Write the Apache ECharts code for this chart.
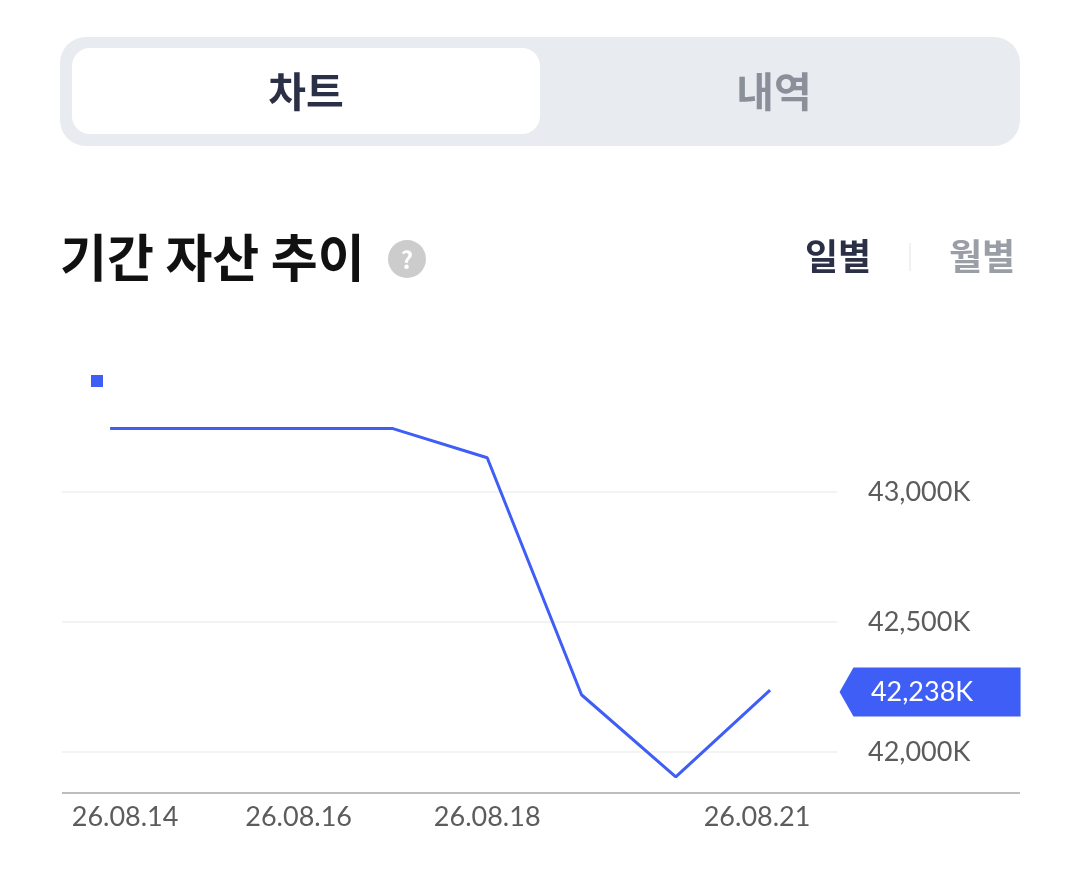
<!DOCTYPE html>
<html><head><meta charset="utf-8">
<script src="https://cdn.jsdelivr.net/npm/echarts@6/dist/echarts.min.js"></script>
<style>html,body{margin:0;padding:0;background:#fff}#c{width:1080px;height:869px}</style>
</head><body><div id="c"></div>
<script>
const dates = ['26.08.14','26.08.15','26.08.16','26.08.17','26.08.18','26.08.19','26.08.20','26.08.21'];
const assetValues = [43244, 43244, 43244, 43244, 43132, 42220, 41904, 42238];
const shownLabelIdx = [0, 2, 4, 7];
const yMin = 41842, yMax = 43354;
const tabLabels = ['차트', '내역'];
const periodLabels = ['일별', '월별'];
const titleText = '기간 자산 추이';

const blue = '#3f5ef5';
const kFmt = v => Math.round(v).toLocaleString('en-US') + 'K';
const last = dates.length - 1;
const KR = '"Noto Sans CJK KR", "Noto Sans", sans-serif';
const seriesData = assetValues.map((v, i) => [i, v]);

const chart = echarts.init(document.getElementById('c'), null, {renderer: 'canvas'});
chart.setOption({
  backgroundColor: '#fff',
  animation: false,
  legend: {
    left: 91, top: 375, padding: 0, icon: 'rect', itemWidth: 12, itemHeight: 12,
    formatter: () => '', selectedMode: false,
    data: ['자산']
  },
  grid: {left: 62, right: 243, top: 400, bottom: 76},
  xAxis: {
    type: 'value', min: -0.51, max: last + 0.71,
    axisLine: {show: false}, axisTick: {show: false}, splitLine: {show: false},
    axisLabel: {
      customValues: shownLabelIdx,
      margin: 11, fontFamily: 'Lato', fontSize: 27, color: '#5c5c5c',
      formatter: (v) => {
        const s = dates[v];
        return v === 0 ? '{f|' + s + '}' : (v === last ? '{l|' + s + '}' : s);
      },
      rich: {
        f: {padding: [0, 0, 0, 30], fontFamily: 'Lato', fontSize: 27, color: '#5c5c5c'},
        l: {padding: [0, 26, 0, 0], fontFamily: 'Lato', fontSize: 27, color: '#5c5c5c'}
      }
    }
  },
  yAxis: {
    type: 'value', position: 'right', min: yMin, max: yMax, splitNumber: 3,
    axisLine: {show: false}, axisTick: {show: false},
    axisLabel: {
      margin: 31, fontFamily: 'Lato', fontSize: 27, color: '#5c5c5c',
      padding: [5, 0, 0, 0],
      showMinLabel: false, showMaxLabel: false,
      formatter: v => kFmt(v)
    },
    splitLine: {show: true, showMinLine: false, showMaxLine: false, lineStyle: {color: '#efefef', width: 1.5}}
  },
  series: [{
    name: '자산', type: 'line', data: seriesData,
    showSymbol: false, symbol: 'none',
    itemStyle: {color: blue},
    lineStyle: {color: blue, width: 3},
    markPoint: {
      symbol: 'path://M0,24 L14,0 L182,0 L182,48 L14,48 Z',
      symbolSize: [181, 49],
      symbolOffset: [160, 2],
      itemStyle: {color: blue},
      label: {
        show: true, position: 'inside', offset: [-8, 0],
        formatter: p => kFmt(p.value),
        color: '#fff', fontFamily: 'Lato', fontSize: 27
      },
      data: [{coord: [last, assetValues[last]], value: assetValues[last]}]
    }
  }],
  graphic: [
    {type: 'rect', shape: {x: 60, y: 37, width: 960, height: 109, r: 26}, style: {fill: '#e8ebf0'}, silent: true},
    {type: 'rect', shape: {x: 72, y: 48, width: 468, height: 86, r: 18}, style: {fill: '#ffffff'}, silent: true},
    {type: 'text', x: 306, y: 91, style: {text: tabLabels[0], font: 'bold 41px ' + KR, fill: '#2b3046', align: 'center', verticalAlign: 'middle'}},
    {type: 'text', x: 774, y: 91, style: {text: tabLabels[1], font: 'bold 41px ' + KR, fill: '#8a8f99', align: 'center', verticalAlign: 'middle'}},
    {type: 'text', x: 60, y: 258, style: {text: titleText, font: 'bold 51px ' + KR, fill: '#111111', align: 'left', verticalAlign: 'middle'}},
    {type: 'circle', shape: {cx: 407, cy: 259, r: 19}, style: {fill: '#cccccc'}},
    {type: 'text', x: 407, y: 260, style: {text: '?', font: 'bold 24px ' + KR, fill: '#ffffff', align: 'center', verticalAlign: 'middle'}},
    {type: 'text', x: 838, y: 256, style: {text: periodLabels[0], font: 'bold 36px ' + KR, fill: '#2b3046', align: 'center', verticalAlign: 'middle'}},
    {type: 'line', shape: {x1: 910, y1: 243, x2: 910, y2: 271}, style: {stroke: '#ececec', lineWidth: 1.5}},
    {type: 'text', x: 982, y: 256, style: {text: periodLabels[1], font: 'bold 36px ' + KR, fill: '#9a9ea6', align: 'center', verticalAlign: 'middle'}},
    {type: 'line', shape: {x1: 62, y1: 793, x2: 1020, y2: 793}, style: {stroke: '#bdbdbd', lineWidth: 2}, z: 1}
  ]
});
</script></body></html>
